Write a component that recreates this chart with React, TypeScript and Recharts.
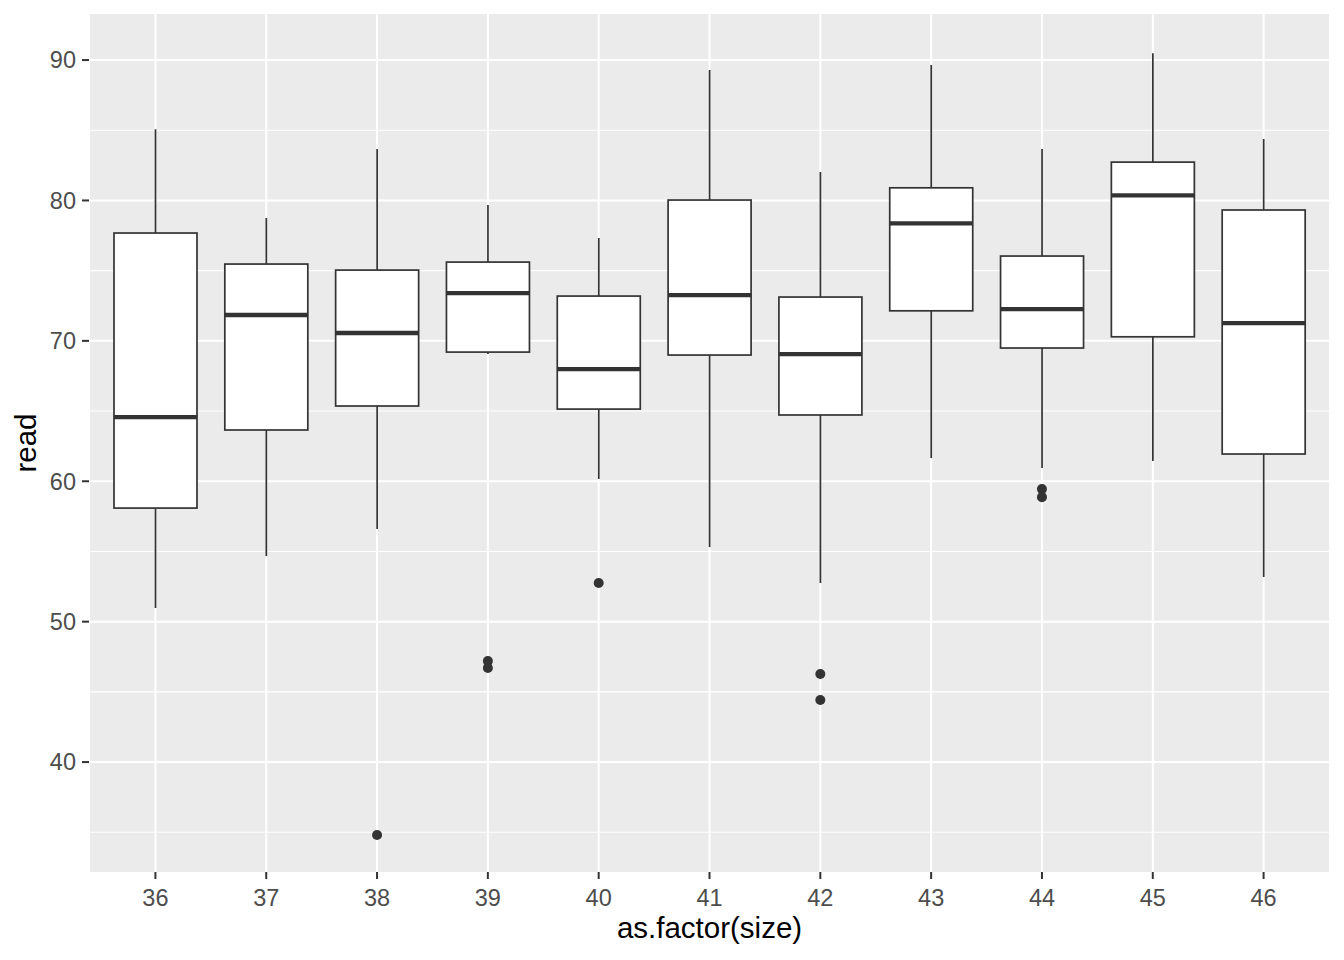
import React from 'react';
import { ComposedChart, Bar, Line, XAxis, YAxis, CartesianGrid } from 'recharts';

const sizes = ['36', '37', '38', '39', '40', '41', '42', '43', '44', '45', '46'];
const whiskerLow = [50.97, 54.67, 56.6, 69.06, 60.16, 55.31, 52.75, 61.65, 60.94, 61.44, 53.18];
const q1 = [58.09, 63.65, 65.36, 69.2, 65.14, 68.99, 64.72, 72.14, 69.49, 70.29, 61.94];
const median = [64.57, 71.84, 70.56, 73.4, 67.99, 73.26, 69.06, 78.37, 72.26, 80.36, 71.27];
const q3 = [77.68, 75.47, 75.04, 75.61, 73.19, 80.03, 73.12, 80.9, 76.04, 82.73, 79.32];
const whiskerHigh = [85.08, 78.75, 83.66, 79.67, 77.32, 89.29, 82.02, 89.64, 83.66, 90.49, 84.37];
const outlierA: (number | null)[] = [null, null, 34.8, 47.19, 52.75, null, 46.27, null, 59.44, null, null];
const outlierB: (number | null)[] = [null, null, null, 46.7, null, null, 44.42, null, 58.87, null, null];
const majorTicks = [40, 50, 60, 70, 80, 90];
const minorTicks = [35, 45, 55, 65, 75, 85];
const yDomain: [number, number] = [32.17, 93.28];

const data = sizes.map((s, i) => ({
  size: s,
  low: whiskerLow[i],
  q1: q1[i],
  median: median[i],
  q3: q3[i],
  high: whiskerHigh[i],
  o1: outlierA[i],
  o2: outlierB[i],
}));

const FONT = '"Liberation Sans", Arial, Helvetica, sans-serif';
const INK = '#333333';

const BoxShape = (props: any) => {
  const { x, y, width, height, payload } = props;
  if (x == null || y == null || !payload) return null;
  const top = Math.min(y, y + height);
  const bottom = Math.max(y, y + height);
  const span = payload.high - payload.low;
  const pix = (v: number) => top + ((payload.high - v) / span) * (bottom - top);
  const cx = x + width / 2;
  const yq3 = pix(payload.q3);
  const yq1 = pix(payload.q1);
  const ym = pix(payload.median);
  return (
    <g>
      <line x1={cx} x2={cx} y1={top} y2={yq3} stroke={INK} strokeWidth={1.7} />
      <line x1={cx} x2={cx} y1={yq1} y2={bottom} stroke={INK} strokeWidth={1.7} />
      <rect x={x} y={yq3} width={width} height={yq1 - yq3} fill="#FFFFFF" stroke={INK} strokeWidth={1.7} />
      <line x1={x} x2={x + width} y1={ym} y2={ym} stroke={INK} strokeWidth={4.3} />
    </g>
  );
};

const XTitle = (props: any) => {
  const vb = props.viewBox || {};
  return (
    <text x={vb.x + vb.width / 2} y={vb.y + 66} textAnchor="middle" fontSize={29.5} fontFamily={FONT} fill="#000000">
      as.factor(size)
    </text>
  );
};

const YTitle = (props: any) => {
  const vb = props.viewBox || {};
  const tx = vb.x + 36;
  const ty = vb.y + vb.height / 2;
  return (
    <text x={tx} y={ty} textAnchor="middle" fontSize={29.5} fontFamily={FONT} fill="#000000" transform={`rotate(-90, ${tx}, ${ty})`}>
      read
    </text>
  );
};

export default function App() {
  return (
    <div style={{ position: 'absolute', left: 0, top: 0, width: 1344, height: 960, background: '#FFFFFF' }}>
      <ComposedChart width={1344} height={960} data={data} margin={{ top: 14, right: 14, bottom: 0, left: 0 }}>
        <CartesianGrid fill="#EBEBEB" fillOpacity={1} stroke="#FFFFFF" strokeWidth={2} horizontalValues={majorTicks} />
        <CartesianGrid stroke="#FFFFFF" strokeWidth={1.1} vertical={false} horizontalValues={minorTicks} />
        <XAxis
          dataKey="size"
          type="category"
          padding={{ left: 11, right: 11 }}
          height={88}
          axisLine={false}
          tickLine={{ stroke: INK, strokeWidth: 2 }}
          tickSize={7}
          tickMargin={10}
          tick={{ fill: '#4D4D4D', fontSize: 23.5, fontFamily: FONT }}
          interval={0}
          label={<XTitle />}
        />
        <YAxis
          type="number"
          domain={yDomain}
          allowDataOverflow
          ticks={majorTicks}
          width={89}
          axisLine={false}
          tickLine={{ stroke: INK, strokeWidth: 2 }}
          tickSize={7}
          tickMargin={6}
          tick={{ fill: '#4D4D4D', fontSize: 23.5, fontFamily: FONT }}
          label={<YTitle />}
        />
        <Bar
          dataKey={(d: any) => [d.low, d.high]}
          barSize={83}
          shape={<BoxShape />}
          isAnimationActive={false}
        />
        <Line dataKey="o1" stroke="none" dot={{ r: 5, fill: INK, stroke: 'none' }} activeDot={false} isAnimationActive={false} />
        <Line dataKey="o2" stroke="none" dot={{ r: 5, fill: INK, stroke: 'none' }} activeDot={false} isAnimationActive={false} />
      </ComposedChart>
    </div>
  );
}
